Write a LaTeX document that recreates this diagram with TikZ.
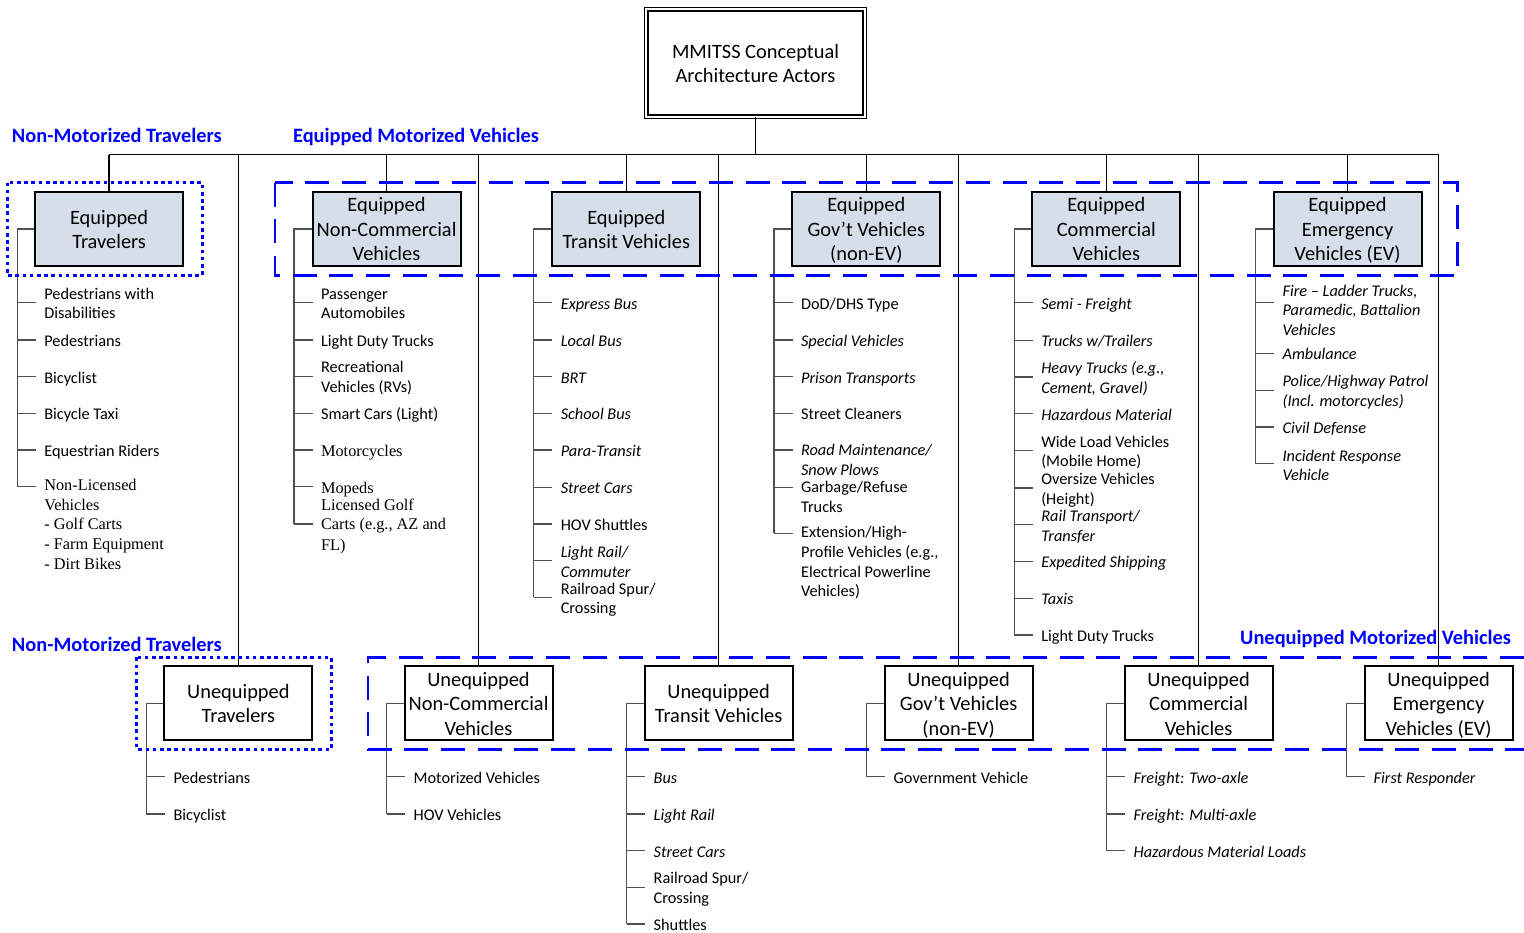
\documentclass[tikz,border=0pt]{standalone}
\usepackage{fontspec}
\setmainfont{Carlito}
\newfontfamily\timesfam{Liberation Serif}
\definecolor{groupblue}{RGB}{0,0,255}
\definecolor{boxfill}{RGB}{213,222,234}
\definecolor{stemgray}{RGB}{80,80,80}
% strut one baselineskip tall, set a little low so the glyphs sit centred
\newcommand\sst{\rule[\dimexpr2.5pt-0.3\baselineskip\relax]{0pt}{\baselineskip}}
% line break that keeps every line on that strut
\newcommand\br{\\\sst}
% one list entry: name, stem x, tick y, text centre y, style, text
\newcommand\itm[6]{%
  \coordinate (#1-t) at (#2,#3);
  \node[#5] (#1) at (#2+27,#4) {\sst #6};
  \draw[stem] (#1-t) -- ++(18.6,0);
}
\tikzset{
  bus/.style={draw=black, line width=1.3pt},
  stem/.style={draw=stemgray, line width=1.2pt},
  eqbox/.style={draw=black, line width=2pt, fill=boxfill, minimum width=148pt,
    minimum height=74pt, inner sep=0pt, align=center,
    font=\fontsize{20.4}{24.5}\selectfont},
  uqbox/.style={eqbox, fill=white},
  rootbox/.style={draw=black, line width=1.3pt, double, double distance=2.2pt,
    fill=white, minimum width=218.5pt, minimum height=107.7pt, inner sep=0pt,
    align=center, font=\fontsize{20.4}{24.5}\selectfont},
  item/.style={anchor=west, inner sep=0pt, align=left,
    font=\fontsize{16.3}{19.6}\selectfont},
  itemit/.style={item, font=\fontsize{16.3}{19.6}\selectfont\itshape},
  itemtm/.style={item, font=\fontsize{16.3}{19.6}\selectfont\timesfam},
  grouplabel/.style={anchor=west, inner sep=0pt, text=groupblue,
    font=\fontsize{20.4}{24.5}\selectfont\bfseries},
  dashgroup/.style={draw=groupblue, line width=2.8pt, dash pattern=on 24pt off 12.7pt},
  dotgroup/.style={draw=groupblue, line width=2.8pt, dash pattern=on 3.6pt off 3.6pt},
}
\begin{document}
\begin{tikzpicture}[x=1pt, y=-1pt]
\useasboundingbox[fill=white] (0,0) rectangle (1524,933);

% group captions
\node[grouplabel] (capnmt) at (11.8,135) {\sst Non-Motorized Travelers};
\node[grouplabel] (capemv) at (292.9,135) {\sst Equipped Motorized Vehicles};
\node[grouplabel] (capnmb) at (11.8,644) {\sst Non-Motorized Travelers};
\node[grouplabel] (capumv) at (1240,637.3) {\sst Unequipped Motorized Vehicles};

% root
\node[rootbox] (root) at (755.5,63) {\sst MMITSS Conceptual\br Architecture Actors};

% equipped actors
\node[eqbox] (eqtrav) at (109.1,229) {\sst Equipped\br Travelers};
\node[eqbox] (eqnc)   at (386.5,229) {\sst Equipped\br Non-Commercial\br Vehicles};
\node[eqbox] (eqtr)   at (626.3,229) {\sst Equipped\br Transit Vehicles};
\node[eqbox] (eqgov)  at (866.3,229) {\sst Equipped\br Gov’t Vehicles\br (non-EV)};
\node[eqbox] (eqcom)  at (1106.3,229) {\sst Equipped\br Commercial\br Vehicles};
\node[eqbox] (eqem)   at (1347.5,229) {\sst Equipped\br Emergency\br Vehicles (EV)};

% unequipped actors
\node[uqbox] (uqtrav) at (238.4,703.3) {\sst Unequipped\br Travelers};
\node[uqbox] (uqnc)   at (478.5,703.3) {\sst Unequipped\br Non-Commercial\br Vehicles};
\node[uqbox] (uqtr)   at (718.6,703.3) {\sst Unequipped\br Transit Vehicles};
\node[uqbox] (uqgov)  at (958.6,703.3) {\sst Unequipped\br Gov’t Vehicles\br (non-EV)};
\node[uqbox] (uqcom)  at (1198.6,703.3) {\sst Unequipped\br Commercial\br Vehicles};
\node[uqbox] (uqem)   at (1438.6,703.3) {\sst Unequipped\br Emergency\br Vehicles (EV)};

% main tree: root, bus and drops
\coordinate (busy) at (0,154.7);
\draw[bus] (root.south) -- (root.south |- busy);
\draw[bus] (eqtrav.north |- busy) -- (uqem.north |- busy);
\foreach \b in {eqtrav,eqnc,eqtr,eqgov,eqcom,eqem}
  \draw[bus] (\b.north |- busy) -- (\b.north);
\foreach \b in {uqtrav,uqnc,uqtr,uqgov,uqcom,uqem}
  \draw[bus] (\b.north |- busy) -- (\b.north);

% Equipped Travelers
\draw[stem] (eqtrav.west) -| (17.1,486.7);
\itm{a1}{17.1}{302.7}{302.7}{item}{Pedestrians with\br Disabilities}
\itm{a2}{17.1}{340}{340}{item}{Pedestrians}
\itm{a3}{17.1}{376.7}{376.7}{item}{Bicyclist}
\itm{a4}{17.1}{413.3}{413.3}{item}{Bicycle Taxi}
\itm{a5}{17.1}{450}{450}{item}{Equestrian Riders}
\itm{a6}{17.1}{486.7}{523.8}{itemtm}{Non-Licensed\br Vehicles\br - Golf Carts\br - Farm Equipment\br - Dirt Bikes}

% Equipped Non-Commercial Vehicles
\draw[stem] (eqnc.west) -| (293.9,524);
\itm{b1}{293.9}{302.7}{302.7}{item}{Passenger\br Automobiles}
\itm{b2}{293.9}{340}{340}{item}{Light Duty Trucks}
\itm{b3}{293.9}{376.7}{376.3}{item}{Recreational\br Vehicles (RVs)}
\itm{b4}{293.9}{413.3}{413.3}{item}{Smart Cars (Light)}
\itm{b5}{293.9}{450}{450}{itemtm}{Motorcycles}
\itm{b6}{293.9}{486.7}{486.7}{itemtm}{Mopeds}
\itm{b7}{293.9}{524}{523.8}{itemtm}{Licensed Golf\br Carts (e.g., AZ and\br FL)}

% Equipped Transit Vehicles
\draw[stem] (eqtr.west) -| (533.6,597.3);
\itm{c1}{533.6}{302.7}{302.7}{itemit}{Express Bus}
\itm{c2}{533.6}{340}{340}{itemit}{Local Bus}
\itm{c3}{533.6}{376.7}{376.7}{itemit}{BRT}
\itm{c4}{533.6}{413.3}{413.3}{itemit}{School Bus}
\itm{c5}{533.6}{450}{450}{itemit}{Para-Transit}
\itm{c6}{533.6}{487.3}{487.3}{itemit}{Street Cars}
\itm{c7}{533.6}{524}{524}{item}{HOV Shuttles}
\itm{c8}{533.6}{560.7}{561}{itemit}{Light Rail/\br Commuter}
\itm{c9}{533.6}{597.3}{597.7}{item}{Railroad Spur/\br Crossing}

% Equipped Gov't Vehicles
\draw[stem] (eqgov.west) -| (773.9,533.3);
\itm{d1}{773.9}{302.7}{302.7}{item}{DoD/DHS Type}
\itm{d2}{773.9}{340}{340}{itemit}{Special Vehicles}
\itm{d3}{773.9}{376.7}{376.7}{itemit}{Prison Transports}
\itm{d4}{773.9}{413.3}{413.3}{item}{Street Cleaners}
\itm{d5}{773.9}{450}{459}{itemit}{Road Maintenance/\br Snow Plows}
\itm{d6}{773.9}{487.3}{496.3}{item}{Garbage/Refuse\br Trucks}
\itm{d7}{773.9}{533.3}{560.8}{item}{Extension/High-\br Profile Vehicles (e.g.,\br Electrical Powerline\br Vehicles)}

% Equipped Commercial Vehicles
\draw[stem] (eqcom.west) -| (1014.1,635);
\itm{e1}{1014.1}{302.8}{302.8}{itemit}{Semi - Freight}
\itm{e2}{1014.1}{340.2}{340.2}{itemit}{Trucks w/Trailers}
\itm{e3}{1014.1}{377}{377}{itemit}{Heavy Trucks (e.g.,\br Cement, Gravel)}
\itm{e4}{1014.1}{413.7}{413.7}{itemit}{Hazardous Material}
\itm{e5}{1014.1}{450.5}{450.5}{item}{Wide Load Vehicles\br (Mobile Home)}
\itm{e6}{1014.1}{487.9}{487.9}{item}{Oversize Vehicles\br (Height)}
\itm{e7}{1014.1}{524.7}{524.9}{itemit}{Rail Transport/\br Transfer}
\itm{e8}{1014.1}{561.4}{561.4}{itemit}{Expedited Shipping}
\itm{e9}{1014.1}{598.2}{598.2}{itemit}{Taxis}
\itm{e10}{1014.1}{635}{635}{item}{Light Duty Trucks}

% Equipped Emergency Vehicles
\draw[stem] (eqem.west) -| (1255.4,463.8);
\itm{f1}{1255.4}{302.8}{309.4}{itemit}{Fire – Ladder Trucks,\br Paramedic, Battalion\br Vehicles}
\itm{f2}{1255.4}{353.6}{353.4}{itemit}{Ambulance}
\itm{f3}{1255.4}{390.3}{390.3}{itemit}{Police/Highway Patrol\br (Incl. motorcycles)}
\itm{f4}{1255.4}{427}{427}{itemit}{Civil Defense}
\itm{f5}{1255.4}{463.8}{464.5}{itemit}{Incident Response\br Vehicle}

% Unequipped Travelers
\draw[stem] (uqtrav.west) -| (146.4,814);
\itm{g1}{146.4}{776.7}{776.7}{item}{Pedestrians}
\itm{g2}{146.4}{814}{814}{item}{Bicyclist}

% Unequipped Non-Commercial Vehicles
\draw[stem] (uqnc.west) -| (386.5,814);
\itm{h1}{386.5}{776.7}{776.7}{item}{Motorized Vehicles}
\itm{h2}{386.5}{814}{814}{item}{HOV Vehicles}

% Unequipped Transit Vehicles
\draw[stem] (uqtr.west) -| (626.5,924);
\itm{i1}{626.5}{776.7}{776.7}{itemit}{Bus}
\itm{i2}{626.5}{814}{814}{itemit}{Light Rail}
\itm{i3}{626.5}{850.7}{850.7}{itemit}{Street Cars}
\itm{i4}{626.5}{887.3}{887.2}{item}{Railroad Spur/\br Crossing}
\itm{i5}{626.5}{924}{924}{item}{Shuttles}

% Unequipped Gov't Vehicles
\draw[stem] (uqgov.west) -| (866.5,776.7);
\itm{j1}{866.5}{776.7}{776.7}{item}{Government Vehicle}

% Unequipped Commercial Vehicles
\draw[stem] (uqcom.west) -| (1106.4,850.7);
\itm{k1}{1106.4}{776.7}{776.7}{itemit}{Freight: Two-axle}
\itm{k2}{1106.4}{814}{814}{itemit}{Freight: Multi-axle}
\itm{k3}{1106.4}{850.7}{850.7}{itemit}{Hazardous Material Loads}

% Unequipped Emergency Vehicles
\draw[stem] (uqem.west) -| (1346.5,776.7);
\itm{l1}{1346.5}{776.7}{776.7}{itemit}{First Responder}

% group outlines
\draw[dotgroup] (7.1,182.7) rectangle (202.1,275.3);
\draw[dotgroup] (136.8,657.3) rectangle (331.4,749.3);
\draw[dashgroup] (275,182.7) rectangle (1457.3,275.3);
\draw[dashgroup] (1524,657.3) -- (367.9,657.3) -- (367.9,749.3) -- (1524,749.3);
\end{tikzpicture}
\end{document}
